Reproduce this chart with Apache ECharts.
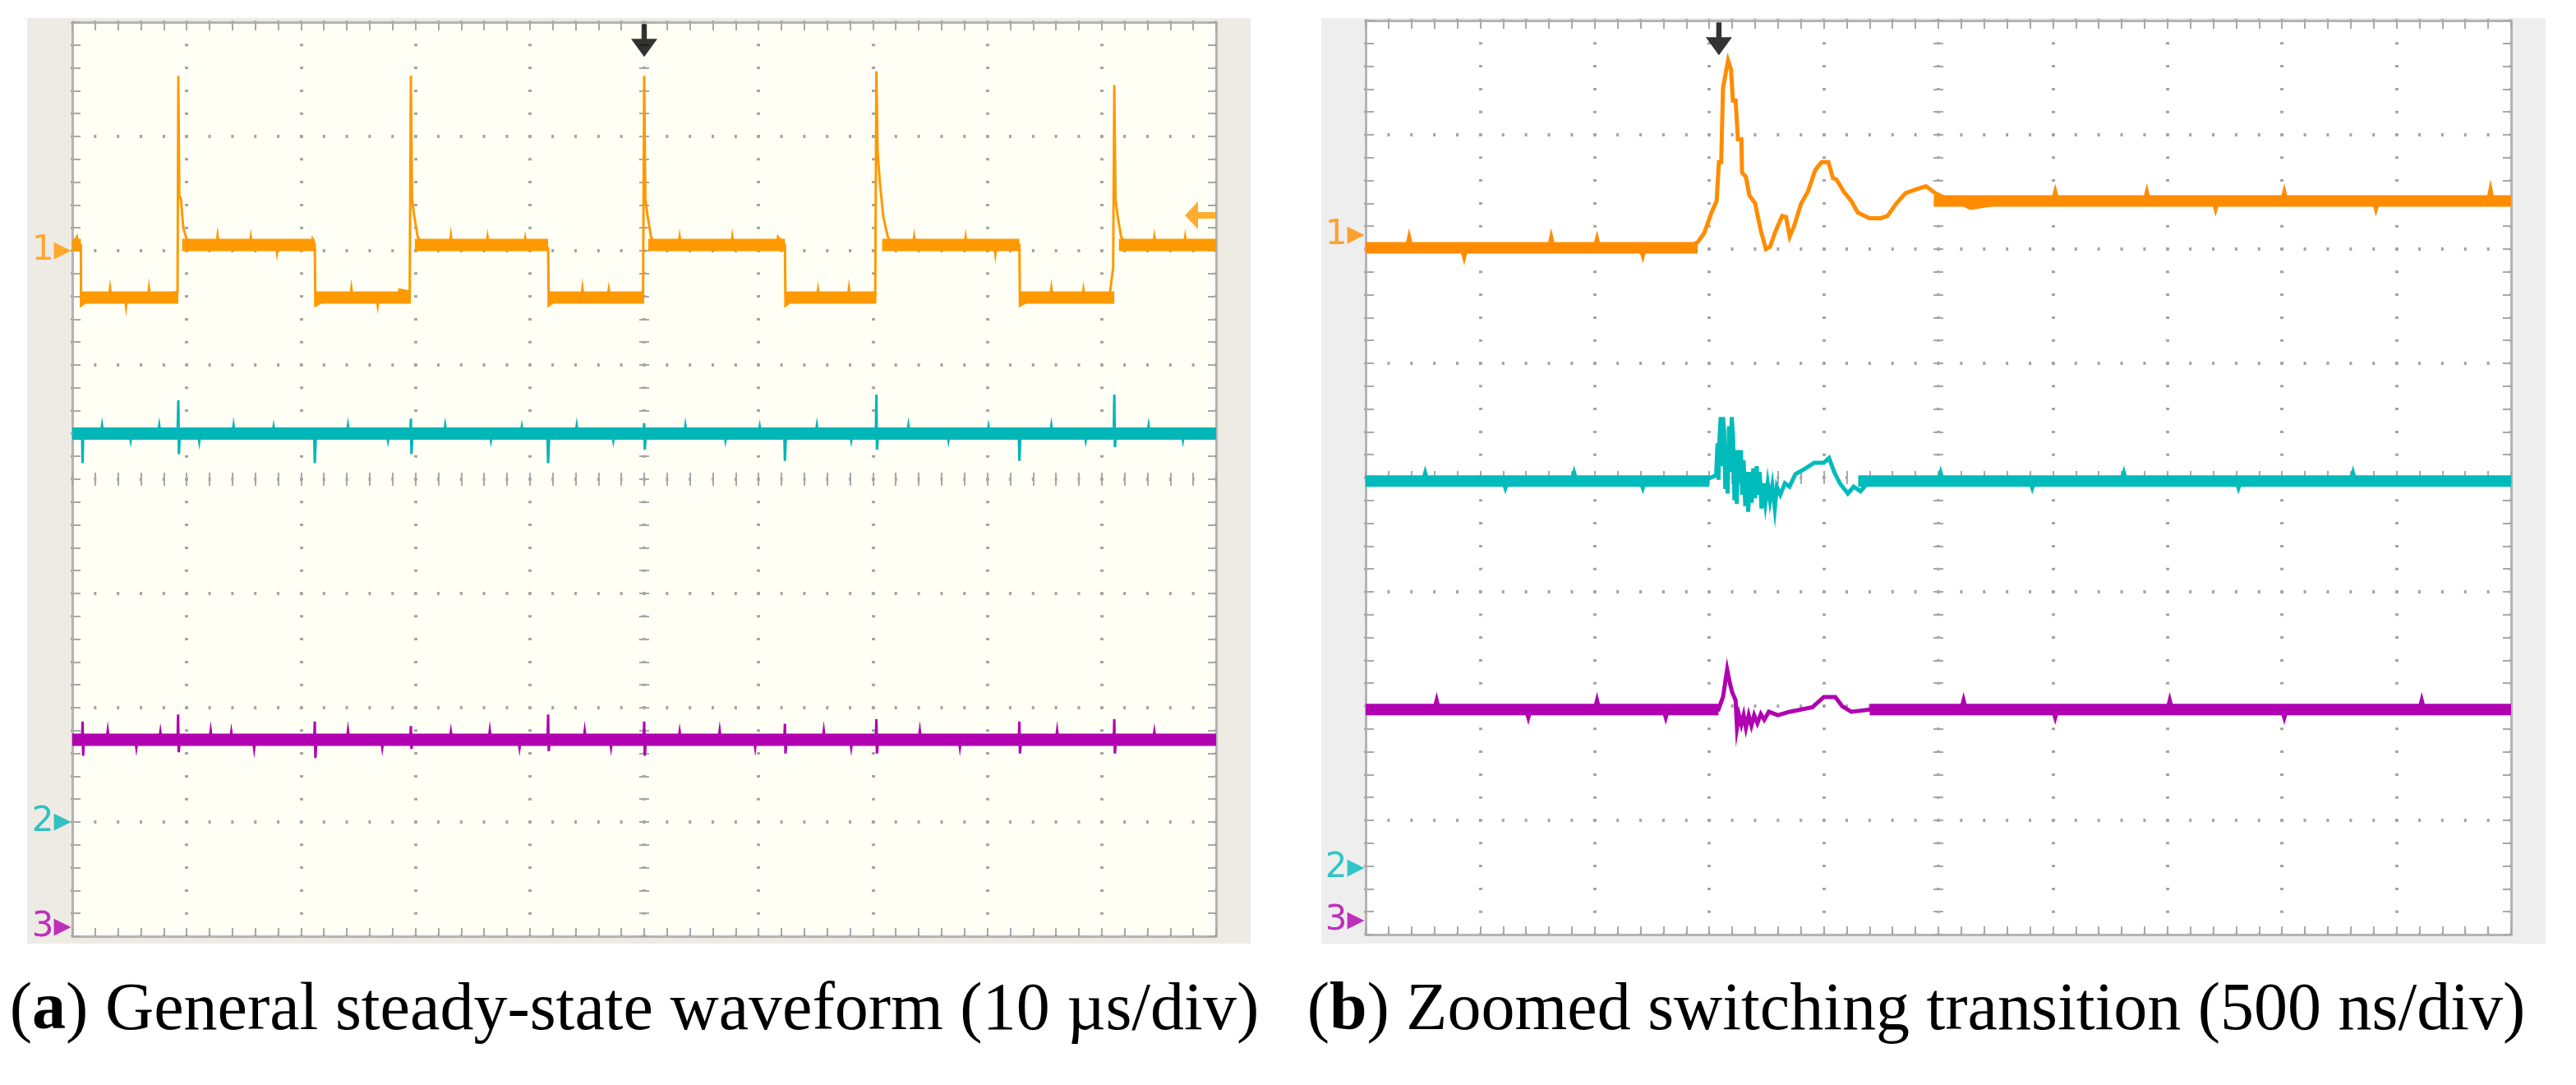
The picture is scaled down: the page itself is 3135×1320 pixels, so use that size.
<!DOCTYPE html>
<html>
<head>
<meta charset="utf-8">
<title>Switching waveforms</title>
<script src="https://cdn.jsdelivr.net/npm/echarts@6/dist/echarts.min.js"></script>
<style>
html, body { margin: 0; padding: 0; background: #fff; }
#main { width: 3135px; height: 1320px; }
</style>
</head>
<body>
<div id="main"></div>
<script>
// panel (a): time in us (10 us/div), vertical in screen divisions (0 = bottom, 8 = top)
var a_ch1 = [[0,6.05],[0.4,6.12],[0.5,6.05],[0.75,6.05],[0.76,5.52],[1.2,5.55],[1.4,5.59],
  [3.2,5.59],[3.3,5.67],[3.4,5.59],[4.6,5.59],[4.7,5.51],[4.8,5.59],[6.6,5.59],[6.7,5.67],[6.8,5.59],[8.6,5.62],[9.2,5.64],
  [9.27,7.53],[9.35,6.48],[9.5,6.45],[9.7,6.2],[10.0,6.1],[10.5,6.05],
  [12.6,6.05],[12.7,6.13],[12.8,6.05],[15.5,6.05],[15.6,6.12],[15.7,6.05],[17.8,6.05],[17.9,5.98],[18.0,6.05],[20.9,6.05],[21.0,6.1],[21.2,6.05],
  [21.25,5.52],[21.8,5.55],[22.2,5.59],[24.3,5.59],[24.4,5.67],[24.5,5.59],[26.6,5.59],[26.7,5.52],[26.8,5.59],[28.5,5.59],[28.6,5.66],[29.5,5.64],
  [29.6,7.53],[29.7,6.45],[29.9,6.3],[30.2,6.12],[30.6,6.05],
  [33.0,6.05],[33.1,6.13],[33.2,6.05],[36.2,6.05],[36.3,6.12],[36.4,6.05],[39.5,6.05],[39.6,6.11],[39.7,6.05],[41.3,6.05],[41.6,6.02],
  [41.65,5.52],[42.2,5.56],[42.6,5.59],[44.5,5.59],[44.6,5.67],[44.7,5.59],[46.8,5.59],[46.9,5.66],[47.0,5.59],[49.4,5.62],[49.9,5.64],
  [50.0,7.53],[50.1,6.45],[50.3,6.3],[50.6,6.12],[51.0,6.05],
  [53.0,6.05],[53.1,6.12],[53.2,6.05],[57.6,6.05],[57.7,6.12],[57.8,6.05],[61.6,6.05],[61.7,6.12],[62.3,6.05],
  [62.35,5.52],[62.9,5.56],[63.3,5.59],[65.1,5.59],[65.2,5.66],[65.3,5.59],[67.8,5.59],[67.9,5.67],[68.0,5.59],[70.2,5.62],
  [70.3,7.57],[70.4,6.88],[70.6,6.6],[70.9,6.3],[71.3,6.12],[71.8,6.05],
  [73.5,6.05],[73.6,6.12],[73.7,6.05],[78.0,6.05],[78.1,6.12],[78.2,6.05],[80.6,6.05],[80.7,5.97],[80.8,6.05],[82.8,6.05],
  [82.85,5.52],[83.4,5.55],[83.8,5.59],[85.5,5.59],[85.6,5.67],[85.7,5.59],[88.3,5.59],[88.4,5.66],[88.5,5.59],[90.7,5.62],[91.0,5.85],
  [91.1,7.45],[91.2,6.45],[91.4,6.3],[91.7,6.12],[92.2,6.05],
  [94.5,6.05],[94.6,6.12],[94.7,6.05],[97.2,6.05],[97.3,6.12],[97.4,6.05],[100,6.05]];
var a_ch1_band = [[0,0.75,6.05],[0.75,9.27,5.59],[9.6,21.2,6.05],[21.2,29.6,5.59],[29.95,41.6,6.05],[41.6,50.0,5.59],
  [50.35,62.3,6.05],[62.3,70.3,5.59],[70.8,82.8,6.05],[82.8,91.1,5.59],[91.5,100,6.05]];

var a_ch2 = [[0,4.40],[0.85,4.40],[0.9,4.14],[0.95,4.40],[2.5,4.40],[2.6,4.47],[2.7,4.40],[5.0,4.40],[5.1,4.34],[5.2,4.40],[7.5,4.40],[7.6,4.47],[7.7,4.40],
  [9.2,4.40],[9.27,4.69],[9.32,4.22],[9.4,4.40],[11.0,4.40],[11.1,4.33],[11.2,4.40],[14.0,4.40],[14.1,4.47],[14.2,4.40],[17.5,4.40],[17.6,4.46],[17.7,4.40],
  [21.15,4.40],[21.2,4.14],[21.3,4.40],[24.0,4.40],[24.1,4.47],[24.2,4.40],[27.5,4.40],[27.6,4.34],[27.7,4.40],
  [29.55,4.40],[29.6,4.53],[29.65,4.22],[29.75,4.40],[32.5,4.40],[32.6,4.47],[32.7,4.40],[36.5,4.40],[36.6,4.34],[36.7,4.40],[39.2,4.40],[39.3,4.46],[39.4,4.40],
  [41.55,4.40],[41.6,4.14],[41.7,4.40],[44.0,4.40],[44.1,4.47],[44.2,4.40],[47.2,4.40],[47.3,4.34],[47.4,4.40],
  [49.95,4.40],[50.0,4.49],[50.05,4.26],[50.15,4.40],[53.5,4.40],[53.6,4.47],[53.7,4.40],[57.0,4.40],[57.1,4.34],[57.2,4.40],[60.0,4.40],[60.1,4.46],[60.2,4.40],
  [62.25,4.40],[62.3,4.16],[62.4,4.40],[65.0,4.40],[65.1,4.47],[65.2,4.40],[68.0,4.40],[68.1,4.34],[68.2,4.40],
  [70.25,4.40],[70.3,4.74],[70.35,4.26],[70.45,4.40],[73.0,4.40],[73.1,4.47],[73.2,4.40],[76.5,4.40],[76.6,4.34],[76.7,4.40],[80.0,4.40],[80.1,4.46],[80.2,4.40],
  [82.75,4.40],[82.8,4.16],[82.9,4.40],[85.5,4.40],[85.6,4.47],[85.7,4.40],[88.5,4.40],[88.6,4.34],[88.7,4.40],
  [91.05,4.40],[91.1,4.74],[91.15,4.28],[91.25,4.40],[94.0,4.40],[94.1,4.47],[94.2,4.40],[97.0,4.40],[97.1,4.34],[97.2,4.40],[100,4.40]];
var a_ch2_band = [[0,100,4.40]];

var a_ch3 = [[0,1.72],[0.85,1.72],[0.9,1.88],[0.95,1.58],[1.0,1.72],[3.0,1.72],[3.1,1.80],[3.2,1.72],[5.5,1.72],[5.6,1.65],[5.7,1.72],[7.6,1.72],[7.7,1.79],[7.8,1.72],
  [9.2,1.72],[9.25,1.94],[9.3,1.61],[9.4,1.72],[12.0,1.72],[12.1,1.80],[12.2,1.72],[13.8,1.72],[13.9,1.79],[14.0,1.72],[15.8,1.72],[15.9,1.64],[16.0,1.72],
  [21.15,1.72],[21.2,1.88],[21.25,1.56],[21.35,1.72],[24.0,1.72],[24.1,1.80],[24.2,1.72],[27.0,1.72],[27.1,1.65],[27.2,1.72],
  [29.55,1.72],[29.6,1.84],[29.65,1.64],[29.75,1.72],[33.0,1.72],[33.1,1.79],[33.2,1.72],[36.4,1.72],[36.5,1.80],[36.6,1.72],[39.0,1.72],[39.1,1.65],[39.2,1.72],
  [41.55,1.72],[41.6,1.94],[41.65,1.62],[41.75,1.72],[44.7,1.72],[44.8,1.80],[44.9,1.72],[47.0,1.72],[47.1,1.65],[47.2,1.72],
  [49.95,1.72],[50.0,1.88],[50.05,1.58],[50.15,1.72],[53.0,1.72],[53.1,1.79],[53.2,1.72],[56.5,1.72],[56.6,1.80],[56.7,1.72],[59.6,1.72],[59.7,1.65],[59.8,1.72],
  [62.25,1.72],[62.3,1.86],[62.35,1.60],[62.45,1.72],[65.6,1.72],[65.7,1.80],[65.8,1.72],[68.0,1.72],[68.1,1.65],[68.2,1.72],
  [70.25,1.72],[70.3,1.90],[70.35,1.60],[70.45,1.72],[74.0,1.72],[74.1,1.80],[74.2,1.72],[77.5,1.72],[77.6,1.65],[77.7,1.72],
  [82.75,1.72],[82.8,1.88],[82.85,1.60],[82.95,1.72],[86.0,1.72],[86.1,1.80],[86.2,1.72],
  [91.05,1.72],[91.1,1.90],[91.15,1.60],[91.25,1.72],[94.5,1.72],[94.6,1.79],[94.7,1.72],[100,1.72]];
var a_ch3_band = [[0,100,1.72]];

var a_ground = [6.0, 1.0, 0.08];   // channel reference markers 1, 2, 3
var a_trigTime = 50;
var a_trigLevel = 6.31;

// panel (b): time in ns (500 ns/div)
var b_ch1 = [[0,6.01],[180,6.01],[190,6.10],[200,6.01],[420,6.01],[430,5.93],[440,6.01],[800,6.01],[810,6.10],[820,6.01],
  [1000,6.01],[1010,6.09],[1020,6.01],[1200,6.01],[1210,5.94],[1220,6.01],[1400,6.01],
  [1449,6.06],[1478,6.14],[1510,6.32],[1532,6.42],[1542,6.76],[1552,6.76],[1560,7.41],[1582,7.65],[1595,7.57],[1603,7.30],[1615,7.30],
  [1625,6.96],[1640,6.96],[1643,6.67],[1660,6.63],[1675,6.47],[1700,6.40],[1725,6.16],[1747,6.00],[1765,6.02],[1790,6.16],
  [1818,6.29],[1835,6.28],[1851,6.11],[1870,6.20],[1901,6.40],[1930,6.50],[1962,6.69],[1990,6.76],[2020,6.76],[2040,6.62],
  [2055,6.61],[2088,6.50],[2120,6.42],[2148,6.32],[2199,6.27],[2250,6.27],[2278,6.29],[2317,6.40],[2357,6.49],[2400,6.52],
  [2446,6.55],[2486,6.49],[2536,6.44],[2600,6.40],[2640,6.36],[2700,6.38],[2769,6.40],[2850,6.44],
  [3000,6.42],[3010,6.50],[3020,6.42],[3400,6.42],[3410,6.50],[3420,6.42],[3700,6.42],[3710,6.35],[3720,6.42],
  [4000,6.42],[4010,6.50],[4020,6.42],[4400,6.42],[4410,6.35],[4420,6.42],[4900,6.42],[4910,6.52],[4920,6.42],[5000,6.42]];
var b_ch1_band = [[0,1449,6.01],[2480,5000,6.42]];

var b_ch2 = [[0,3.97],[250,3.97],[260,4.04],[270,3.97],[600,3.97],[610,3.91],[620,3.97],[900,3.97],[910,4.04],[920,3.97],
  [1200,3.97],[1210,3.91],[1220,3.97],[1496,3.99],[1530,4.02],[1536,4.30],[1540,3.98],[1545,4.36],[1550,4.53],[1555,4.10],
  [1560,4.53],[1565,4.40],[1570,3.90],[1575,4.20],[1580,3.86],[1586,4.45],[1592,4.05],[1598,4.53],[1604,4.35],[1610,3.80],
  [1615,4.24],[1620,3.77],[1626,4.24],[1632,3.95],[1638,4.24],[1644,3.85],[1650,4.15],[1657,3.75],[1664,4.05],[1670,3.70],
  [1678,4.05],[1685,3.78],[1692,4.08],[1700,3.82],[1707,4.10],[1714,3.85],[1720,4.05],[1728,3.73],[1736,3.95],[1745,3.78],
  [1755,3.95],[1765,3.80],[1775,3.93],[1786,3.73],[1795,3.92],[1810,3.85],[1830,3.95],[1850,3.92],[1876,4.03],
  [1920,4.08],[1958,4.13],[2000,4.13],[2023,4.17],[2045,4.05],[2070,3.95],[2105,3.86],[2130,3.92],[2160,3.88],[2200,3.97],
  [2500,3.97],[2510,4.04],[2520,3.97],[2900,3.97],[2910,3.91],[2920,3.97],[3300,3.97],[3310,4.04],[3320,3.97],
  [3800,3.97],[3810,3.91],[3820,3.97],[4300,3.97],[4310,4.04],[4320,3.97],[5000,3.97]];
var b_ch2_band = [[0,1500,3.97],[2150,5000,3.97]];

var b_ch3 = [[0,1.97],[300,1.97],[310,2.05],[320,1.97],[700,1.97],[710,1.90],[720,1.97],[1000,1.97],[1010,2.05],[1020,1.97],
  [1300,1.97],[1310,1.90],[1320,1.97],[1540,1.97],[1560,2.08],[1578,2.32],[1590,2.20],[1600,2.12],[1615,2.05],[1621,1.81],
  [1630,1.92],[1640,1.84],[1650,1.92],[1660,1.81],[1672,1.92],[1684,1.83],[1696,1.92],[1710,1.85],[1725,1.93],[1740,1.88],
  [1760,1.95],[1800,1.92],[1850,1.95],[1950,1.99],[2000,2.08],[2050,2.08],
  [2080,2.00],[2120,1.95],[2200,1.97],[2600,1.97],[2610,2.05],[2620,1.97],[3000,1.97],[3010,1.90],[3020,1.97],
  [3500,1.97],[3510,2.05],[3520,1.97],[4000,1.97],[4010,1.90],[4020,1.97],[4600,1.97],[4610,2.05],[4620,1.97],[5000,1.97]];
var b_ch3_band = [[0,1540,1.97],[2200,5000,1.97]];

var b_ground = [6.12, 0.58, 0.12];
var b_trigTime = 1542;

var captions = ['General steady-state waveform (10 \u00b5s/div)', 'Zoomed switching transition (500 ns/div)'];

// ---------------------------------------------------------------
var GA = {left: 88, top: 27, width: 1392, height: 1112};
var GB = {left: 1662, top: 25, width: 1394, height: 1112};
var colA = ['#ff9900', '#00b6b6', '#b000b0'];
var colB = ['#ff8c00', '#00bbbb', '#b000b0'];

var myChart = echarts.init(document.getElementById('main'));

function panelAxes(gi, g, xmax, xstep) {
    var tick = {color: '#a8a8a8', width: 2};
    var border = {show: true, onZero: false, lineStyle: {color: '#b4b4b4', width: 3}};
    var dotX = g.height / 40, dotY = g.width / 50;
    var xs = [], ys = [];
    xs.push({gridIndex: gi, type: 'value', position: 'bottom', min: 0, max: xmax, interval: xstep,
        axisLine: border, axisTick: {show: true, inside: true, length: 10, lineStyle: tick},
        minorTick: {show: true, splitNumber: 5, length: 10, lineStyle: tick},
        axisLabel: {show: false},
        splitLine: {show: true, lineStyle: {color: '#a4a4a4', width: 4, type: [3, dotX - 3], dashOffset: 1.5}}});
    xs.push({gridIndex: gi, type: 'value', position: 'top', min: 0, max: xmax, interval: xstep,
        axisLine: border, axisTick: {show: true, inside: true, length: 10, lineStyle: tick},
        minorTick: {show: true, splitNumber: 5, length: 10, lineStyle: tick},
        axisLabel: {show: false}, splitLine: {show: false}});
    ys.push({gridIndex: gi, type: 'value', position: 'left', min: 0, max: 8, interval: 1,
        axisLine: border, axisTick: {show: true, inside: true, length: 10, lineStyle: tick},
        minorTick: {show: true, splitNumber: 5, length: 10, lineStyle: tick},
        axisLabel: {show: false},
        splitLine: {show: true, lineStyle: {color: '#a4a4a4', width: 4, type: [3, dotY - 3], dashOffset: 1.5}}});
    ys.push({gridIndex: gi, type: 'value', position: 'right', min: 0, max: 8, interval: 1,
        axisLine: border, axisTick: {show: true, inside: true, length: 10, lineStyle: tick},
        minorTick: {show: true, splitNumber: 5, length: 10, lineStyle: tick},
        axisLabel: {show: false}, splitLine: {show: false}});
    // centre cross marks, drawn on both sides of the centre lines
    [true, false].forEach(function (inside) {
        xs.push({gridIndex: gi, type: 'value', position: 'bottom', offset: -g.height / 2, min: 0, max: xmax, interval: xstep / 5,
            axisLine: {show: false, onZero: false}, axisTick: {show: true, inside: inside, length: 8, lineStyle: tick},
            axisLabel: {show: false}, splitLine: {show: false}});
        ys.push({gridIndex: gi, type: 'value', position: 'left', offset: -g.width / 2, min: 0, max: 8, interval: 0.2,
            axisLine: {show: false, onZero: false}, axisTick: {show: true, inside: inside, length: 6, lineStyle: tick},
            axisLabel: {show: false}, splitLine: {show: false}});
    });
    return {x: xs, y: ys};
}

function bandData(segs) {
    var out = [];
    segs.forEach(function (s) {
        out.push([s[0], s[2]], [s[1], s[2]], [s[1], null]);
    });
    return out;
}

function line(ai, data, color, width) {
    return {type: 'line', xAxisIndex: ai, yAxisIndex: ai, data: data, symbol: 'none', showSymbol: false,
        connectNulls: false, silent: true, lineStyle: {color: color, width: width, cap: 'butt', join: 'miter'},
        itemStyle: {color: color}};
}

function groundMarks(ai, levels, colors) {
    return {type: 'scatter', xAxisIndex: ai, yAxisIndex: ai, symbolSize: 1, silent: true, clip: false,
        itemStyle: {color: 'rgba(0,0,0,0)'},
        label: {show: true, position: 'left', distance: 1, fontSize: 42, fontFamily: 'DejaVu Sans'},
        data: levels.map(function (v, i) {
            return {value: [0, v], label: {formatter: (i + 1) + '\u25b8', color: colors[i]}};
        })};
}

function trigArrow(ai, t) {
    return {type: 'scatter', xAxisIndex: ai, yAxisIndex: ai, silent: true,
        symbol: 'path://M12,0 L18,0 L18,18 L30,18 L15,40 L0,18 L12,18 Z', symbolSize: [32, 40],
        itemStyle: {color: '#000'}, data: [[t, 7.84]]};
}

var pa = panelAxes(0, GA, 100, 10);
var pb = panelAxes(1, GB, 5000, 500);
var AB = pa.x.length;

var series = [];
[[a_ch1_band, a_ch1], [a_ch2_band, a_ch2], [a_ch3_band, a_ch3]].forEach(function (c, i) {
    series.push(line(0, bandData(c[0]), colA[i], 15));
    series.push(line(0, c[1], colA[i], 3));
});
[[b_ch1_band, b_ch1], [b_ch2_band, b_ch2], [b_ch3_band, b_ch3]].forEach(function (c, i) {
    series.push(line(AB, bandData(c[0]), colB[i], 14));
    series.push(line(AB, c[1], colB[i], 5));
});
series.push(groundMarks(0, a_ground, colA));
series.push(groundMarks(AB, b_ground, colB));
series.push(trigArrow(0, a_trigTime));
series.push(trigArrow(AB, b_trigTime));
series.push({type: 'scatter', xAxisIndex: 0, yAxisIndex: 0, silent: true,
    symbol: 'path://M0,17 L16,0 L16,13 L38,13 L38,21 L16,21 L16,34 Z', symbolSize: [38, 34], symbolOffset: [-19, 0],
    itemStyle: {color: colA[0]}, data: [[100, a_trigLevel]]});

option = {
    animation: false,
    backgroundColor: '#ffffff',
    grid: [
        {left: GA.left, top: GA.top, width: GA.width, height: GA.height, show: true, backgroundColor: '#fffff6', borderWidth: 0, outerBoundsMode: 'none'},
        {left: GB.left, top: GB.top, width: GB.width, height: GB.height, show: true, backgroundColor: '#ffffff', borderWidth: 0, outerBoundsMode: 'none'}
    ],
    xAxis: pa.x.concat(pb.x),
    yAxis: pa.y.concat(pb.y),
    graphic: [
        {type: 'rect', z: -10, silent: true, shape: {x: 33, y: 22, width: 1489, height: 1126}, style: {fill: '#eeeae4'}},
        {type: 'rect', z: -10, silent: true, shape: {x: 1608, y: 22, width: 1490, height: 1126}, style: {fill: '#eeeeee'}},
        {type: 'text', silent: true, x: 772, y: 1230,
            style: {text: '({b|a}) ' + captions[0], fontSize: 82, fontFamily: 'Liberation Serif', fill: '#000',
                align: 'center', verticalAlign: 'middle', textAlign: 'center', textVerticalAlign: 'middle',
                rich: {b: {fontSize: 82, fontFamily: 'Liberation Serif', fontWeight: 'bold', fill: '#000'}}}},
        {type: 'text', silent: true, x: 2332, y: 1230,
            style: {text: '({b|b}) ' + captions[1], fontSize: 82, fontFamily: 'Liberation Serif', fill: '#000',
                align: 'center', verticalAlign: 'middle', textAlign: 'center', textVerticalAlign: 'middle',
                rich: {b: {fontSize: 82, fontFamily: 'Liberation Serif', fontWeight: 'bold', fill: '#000'}}}}
    ],
    series: series
};

myChart.setOption(option);
</script>
</body>
</html>
